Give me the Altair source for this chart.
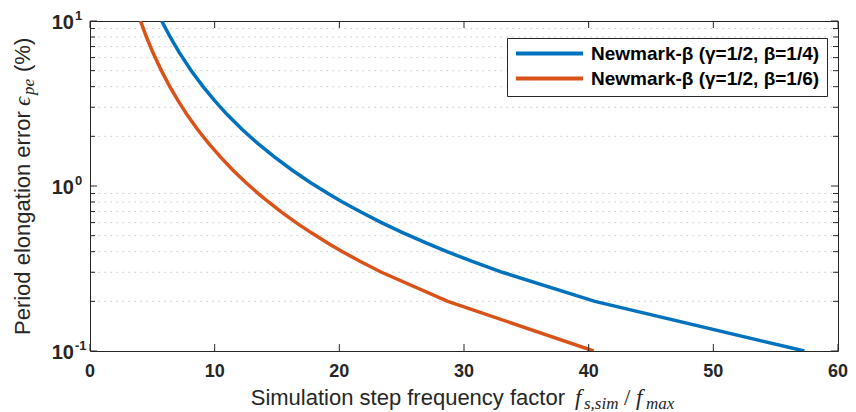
import altair as alt
import pandas as pd

# ---- data ----
error_levels = [10, 8, 6.5, 5, 4, 3.3, 2.7, 2.2, 1.8, 1.5, 1.25, 1.05, 0.9, 0.8, 0.7, 0.6,
                0.52, 0.45, 0.4, 0.35, 0.3, 0.2, 0.1]
nm_quarter_x = [5.75, 6.43, 7.13, 8.12, 9.07, 9.98, 11.02, 12.21, 13.5, 14.79, 16.2, 17.67,
                19.09, 20.25, 21.65, 23.38, 25.12, 27.0, 28.64, 30.61, 33.07, 40.5, 57.3]
nm_sixth_x = [4.05, 4.53, 5.02, 5.73, 6.4, 7.05, 7.79, 8.63, 9.55, 10.46, 11.45, 12.5,
              13.5, 14.32, 15.31, 16.53, 17.76, 19.09, 20.25, 21.65, 23.38, 28.7, 40.4]
series_names = ["Newmark-β (γ=1/2, β=1/4)", "Newmark-β (γ=1/2, β=1/6)"]
series_colors = ["#0072BD", "#D95319"]
x_ticks = [0, 10, 20, 30, 40, 50, 60]
y_major = [0.1, 1, 10]
y_exp = ["-1", "0", "1"]
y_minor = [0.2, 0.3, 0.4, 0.5, 0.6, 0.7, 0.8, 0.9, 2, 3, 4, 5, 6, 7, 8, 9]

W, H = 748, 330
INK = "#262626"
SANS = "Liberation Sans"
SERIF = "Liberation Serif, DejaVu Serif"

lines_df = pd.DataFrame({
    "f": nm_quarter_x + nm_sixth_x,
    "err": error_levels + error_levels,
    "series": [series_names[0]] * len(error_levels) + [series_names[1]] * len(error_levels),
})
xt_df = pd.DataFrame({"t": x_ticks})
ymaj_df = pd.DataFrame({"v": y_major, "e": y_exp})
ymin_df = pd.DataFrame({"v": y_minor})
one = pd.DataFrame({"a": [0]})

xscale = alt.Scale(domain=[0, 60], nice=False, zero=False)
yscale = alt.Scale(type="log", domain=[0.1, 10], nice=False)

x_axis = alt.Axis(values=x_ticks, title=None, grid=True, gridColor="#dedede", domain=False,
                  ticks=False, labels=False)
y_axis = alt.Axis(values=y_major, title=None, grid=True, gridColor="#dedede", domain=False,
                  ticks=False, labels=False)

minor_grid = alt.Chart(ymin_df).mark_rule(color="#c8c8c8", strokeDash=[1.5, 4.5], strokeWidth=1).encode(
    y=alt.Y("v:Q", scale=yscale, axis=None)
)

lines = alt.Chart(lines_df).mark_line(strokeWidth=3.5, clip=True).encode(
    x=alt.X("f:Q", scale=xscale, axis=x_axis),
    y=alt.Y("err:Q", scale=yscale, axis=y_axis),
    color=alt.Color("series:N", scale=alt.Scale(domain=series_names, range=series_colors),
                    legend=alt.Legend(title=None, orient="none", legendX=417, legendY=17,
                                      symbolType="stroke", symbolSize=4489, symbolStrokeWidth=4,
                                      clipHeight=17,
                                      labelFont=SANS, labelFontSize=19, labelFontWeight="bold",
                                      labelColor="#000000", labelOffset=6, padding=7, rowPadding=5,
                                      strokeColor=INK, fillColor="white", cornerRadius=0,
                                      labelLimit=500)),
    order=alt.Order("f:Q"),
)

tick_color = INK
bx = alt.Chart(xt_df).mark_rule(color=tick_color, strokeWidth=1).encode(
    x=alt.X("t:Q", scale=xscale, axis=None), y=alt.value(H), y2=alt.value(H - 7))
tx = alt.Chart(xt_df).mark_rule(color=tick_color, strokeWidth=1).encode(
    x=alt.X("t:Q", scale=xscale, axis=None), y=alt.value(0), y2=alt.value(7))
ly = alt.Chart(ymaj_df).mark_rule(color=tick_color, strokeWidth=1).encode(
    y=alt.Y("v:Q", scale=yscale, axis=None), x=alt.value(0), x2=alt.value(7))
ry = alt.Chart(ymaj_df).mark_rule(color=tick_color, strokeWidth=1).encode(
    y=alt.Y("v:Q", scale=yscale, axis=None), x=alt.value(W), x2=alt.value(W - 7))
lym = alt.Chart(ymin_df).mark_rule(color=tick_color, strokeWidth=1).encode(
    y=alt.Y("v:Q", scale=yscale, axis=None), x=alt.value(0), x2=alt.value(5))
rym = alt.Chart(ymin_df).mark_rule(color=tick_color, strokeWidth=1).encode(
    y=alt.Y("v:Q", scale=yscale, axis=None), x=alt.value(W), x2=alt.value(W - 5))

xlabels = alt.Chart(xt_df).mark_text(align="center", baseline="middle", font=SANS, fontSize=18,
                                      fontWeight="bold", color=INK).encode(
    x=alt.X("t:Q", scale=xscale, axis=None), y=alt.value(H + 21), text=alt.Text("t:Q"))

ybase = alt.Chart(ymaj_df).mark_text(align="right", baseline="middle", font=SANS, fontSize=20,
                                      fontWeight="bold", color=INK, dy=2).encode(
    y=alt.Y("v:Q", scale=yscale, axis=None), x=alt.value(-16), text=alt.value("10"))
yexp = alt.Chart(ymaj_df).mark_text(align="left", baseline="middle", font=SANS, fontSize=13,
                                     fontWeight="bold", color=INK, dy=-5).encode(
    y=alt.Y("v:Q", scale=yscale, axis=None), x=alt.value(-15), text="e:N")


def txt(text, x, y, size, font=SANS, style="normal", angle=0, align="left", baseline="alphabetic"):
    return alt.Chart(one).mark_text(align=align, baseline=baseline, font=font, fontSize=size,
                                    fontStyle=style, angle=angle, color=INK).encode(
        x=alt.value(x), y=alt.value(y), text=alt.value(text))


# x-axis title: regular part + math part
xt_base = 384
x_title = [
    txt("Simulation step frequency factor", 475, xt_base, 22, align="right"),
    txt("f", 485, xt_base, 23, font=SERIF, style="italic"),
    txt("s,sim", 494, xt_base + 4, 17, font=SERIF, style="italic"),
    txt("/", 534, xt_base, 23, font=SERIF),
    txt("f", 546, xt_base, 23, font=SERIF, style="italic"),
    txt("max", 556, xt_base + 4, 17, font=SERIF, style="italic"),
]

# y-axis title (rotated, reading upward)
yx = -60
y_title = [
    txt("Period elongation error", yx, 314, 22, angle=270),
    txt("ϵ", yx, 85, 23, font=SERIF, style="italic", angle=270),
    txt("pe", yx + 4, 74, 17, font=SERIF, style="italic", angle=270),
    txt("(%)", yx, 51, 22, angle=270),
]

chart = alt.layer(
    minor_grid, lines, bx, tx, ly, ry, lym, rym, xlabels, ybase, yexp, *x_title, *y_title
).properties(
    width=W, height=H,
    padding={"left": 82, "top": 13, "right": 10, "bottom": 62},
    autosize=alt.AutoSizeParams(type="none"),
).configure_view(stroke=INK, strokeWidth=1)

chart.save("out.html", embed_options={"renderer": "svg", "actions": False})
